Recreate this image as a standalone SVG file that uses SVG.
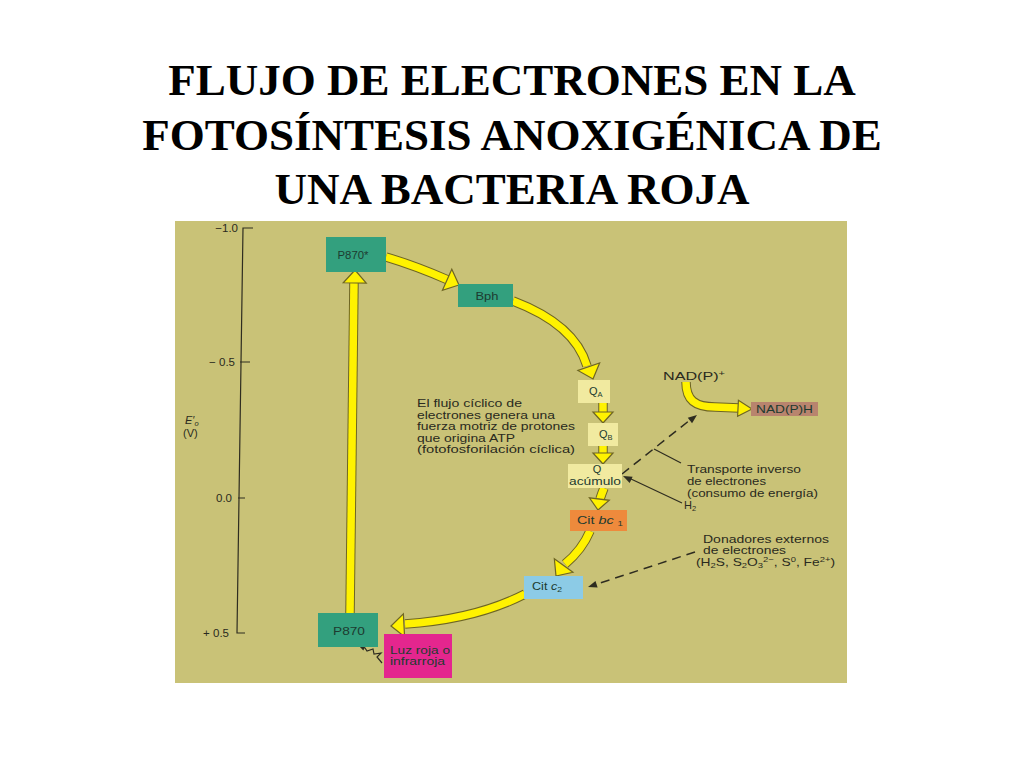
<svg xmlns="http://www.w3.org/2000/svg" xmlns:xlink="http://www.w3.org/1999/xlink" width="1024" height="768" viewBox="0 0 1024 768">
<style>
.title{font-family:"Liberation Serif","Times New Roman",serif;font-weight:bold;font-size:45px;fill:#000;text-anchor:middle}
.t{font-family:"Liberation Sans",Arial,sans-serif;font-size:11px;fill:#2a2a20}
.ax{font-family:"Liberation Sans",Arial,sans-serif;font-size:11.5px;fill:#2a2a20;text-anchor:end}
.bx{font-family:"Liberation Sans",Arial,sans-serif;font-size:11px;fill:#1d3b30}
.so{fill:none;stroke:#6e6524;stroke-width:9.5}
.si{fill:none;stroke:#fff200;stroke-width:7.5}
.hd{fill:#fff200;stroke:#6e6524;stroke-width:1.2;stroke-linejoin:miter}
.dash{fill:none;stroke:#2e2c20;stroke-width:1.5;stroke-dasharray:9 6}
.thin{fill:none;stroke:#2e2c20;stroke-width:1.2}
.dh{fill:#2e2c20}
.teal{fill:#33a07e}
.pale{fill:#f1eaa0}
</style>
<defs>
<path id="hd" d="M0,0 L-13,-11.5 L-13,11.5 Z"/>
<path id="hs" d="M0,0 L-11,-10 L-11,10 Z"/>
<path id="hn" d="M0,0 L-14,-8 L-14,8 Z"/>
<path id="da" d="M0,0 L-9,-3.5 L-9,3.5 Z"/>
<path id="s1" d="M386,257 Q416,266 448,280"/>
<path id="s2" d="M513,301 C550,315 578,335 587,366"/>
<path id="s3" d="M603,403 L603,413"/>
<path id="s4" d="M603,446 L603,454"/>
<path id="s5" d="M604,488 Q602,493 600,499"/>
<path id="s6" d="M590,531 Q582,550 565,564"/>
<path id="s7" d="M525,594 C490,612 450,621 405,624"/>
<path id="s8" d="M350,614 L354,281"/>
<path id="s9" d="M686,382 C686,400 695,407 715,407 L739,408"/>
</defs>

<rect x="0" y="0" width="1024" height="768" fill="#ffffff"/>
<g id="title">
<text class="title" x="512" y="95">FLUJO DE ELECTRONES EN LA</text>
<text class="title" x="512" y="150">FOTOSÍNTESIS ANOXIGÉNICA DE</text>
<text class="title" x="512" y="204">UNA BACTERIA ROJA</text>
</g>

<rect x="175" y="221" width="672" height="462" fill="#c9c277"/>

<g id="axis">
<path class="thin" d="M253,228 L243,228 L237,633 L245,633" stroke-width="1.6"/>
<path class="thin" d="M240,362 L250,362 M238,498 L245,498" stroke-width="1.6"/>
<text class="ax" x="238" y="232">−1.0</text>
<text class="ax" x="235" y="366">− 0.5</text>
<text class="ax" x="232" y="502">0.0</text>
<text class="ax" x="229" y="637">+ 0.5</text>
<text class="t" x="185" y="424" font-style="italic">E′<tspan font-size="7.5" dy="2">o</tspan></text>
<text class="t" x="183" y="437">(V)</text>
</g>

<g id="connectors">
<use href="#s1" class="so"/><use href="#s1" class="si"/>
<use href="#hd" class="hd" transform="translate(459,285) rotate(24)"/>
<use href="#s2" class="so"/><use href="#s2" class="si"/>
<use href="#hd" class="hd" transform="translate(593,379) rotate(71)"/>
<use href="#s3" class="so"/><use href="#s3" class="si"/>
<use href="#hs" class="hd" transform="translate(603,423) rotate(90)"/>
<use href="#s4" class="so"/><use href="#s4" class="si"/>
<use href="#hs" class="hd" transform="translate(603,464) rotate(90)"/>
<use href="#s5" class="so"/><use href="#s5" class="si"/>
<use href="#hs" class="hd" transform="translate(598,510) rotate(97)"/>
<use href="#s6" class="so"/><use href="#s6" class="si"/>
<use href="#hd" class="hd" transform="translate(556,576) rotate(126)"/>
<use href="#s7" class="so"/><use href="#s7" class="si"/>
<use href="#hd" class="hd" transform="translate(391,626) rotate(177)"/>
<use href="#s8" class="so"/><use href="#s8" class="si"/>
<use href="#hd" class="hd" transform="translate(355,270) rotate(-89)"/>
<use href="#s9" class="so"/><use href="#s9" class="si"/>
<use href="#hn" class="hd" transform="translate(752,409) rotate(3)"/>
<path class="dash" d="M622,474 L690,420"/>
<use href="#da" class="dh" transform="translate(697,415) rotate(-38)"/>
<path class="dash" d="M695,552 L597,584"/>
<use href="#da" class="dh" transform="translate(588,587) rotate(162)"/>
<path class="thin" d="M654,449 L681,463"/>
<path class="thin" d="M682,503 L631,479"/>
<use href="#da" class="dh" transform="translate(623,476) rotate(205)"/>
<path class="thin" stroke-width="1.3" d="M382,663 L377,657 L381,653 L374,654 L373,649 L367,651 L365,648 L362,647"/>
<use href="#da" class="dh" transform="translate(358,645) rotate(205) scale(0.8)"/>
</g>

<g id="p870star">
<rect class="teal" x="326" y="237" width="60" height="35"/>
<text class="bx" x="353" y="259" text-anchor="middle" textLength="31" lengthAdjust="spacingAndGlyphs">P870*</text>
</g>
<g id="bph">
<rect class="teal" x="458" y="284" width="55" height="23"/>
<text class="bx" x="487" y="300" text-anchor="middle" textLength="23" lengthAdjust="spacingAndGlyphs">Bph</text>
</g>
<g id="qa">
<rect class="pale" x="578" y="380" width="32" height="23"/>
<text class="bx" x="589" y="395" fill="#3a3a2a">Q<tspan font-size="7.5" dy="2">A</tspan></text>
</g>
<g id="qb">
<rect class="pale" x="588" y="423" width="30" height="23"/>
<text class="bx" x="599" y="438" fill="#3a3a2a">Q<tspan font-size="7.5" dy="2">B</tspan></text>
</g>
<g id="qpool">
<rect class="pale" x="568" y="464" width="54" height="24"/>
<text class="bx" x="597" y="473" text-anchor="middle" fill="#3a3a2a">Q</text>
<text class="bx" x="595" y="485" text-anchor="middle" fill="#3a3a2a" textLength="52" lengthAdjust="spacingAndGlyphs">acúmulo</text>
</g>
<g id="citbc1">
<rect x="570" y="510" width="57" height="21" fill="#ee8a3c"/>
<text class="bx" x="577" y="524" fill="#3a2010" textLength="46" lengthAdjust="spacingAndGlyphs">Cit <tspan font-style="italic">bc</tspan> <tspan font-size="7.5" dy="2">1</tspan></text>
</g>
<g id="citc2">
<rect x="524" y="576" width="59" height="23" fill="#8ccbe6"/>
<text class="bx" x="532" y="590" fill="#1e3040" textLength="30" lengthAdjust="spacingAndGlyphs">Cit <tspan font-style="italic">c</tspan><tspan font-size="7.5" dy="2">2</tspan></text>
</g>
<g id="p870">
<rect class="teal" x="318" y="613" width="60" height="34"/>
<text class="bx" x="349" y="635" text-anchor="middle" textLength="32" lengthAdjust="spacingAndGlyphs">P870</text>
</g>
<g id="light">
<rect x="384" y="634" width="68" height="44" fill="#e4268e"/>
<text class="bx" x="390" y="654" fill="#4a1035" textLength="60" lengthAdjust="spacingAndGlyphs">Luz roja o</text>
<text class="bx" x="390" y="665" fill="#4a1035" textLength="55" lengthAdjust="spacingAndGlyphs">infrarroja</text>
</g>
<g id="nadph">
<rect x="751" y="402" width="67" height="14" fill="#b8846e"/>
<text class="bx" x="756" y="413" fill="#3a2420" textLength="57" lengthAdjust="spacingAndGlyphs">NAD(P)H</text>
</g>
<g id="nadp">
<text class="t" x="663" y="380" textLength="62" lengthAdjust="spacingAndGlyphs">NAD(P)<tspan font-size="7.5" dy="-4">+</tspan></text>
</g>

<g id="labels">
<text class="t" x="417" y="407" textLength="105" lengthAdjust="spacingAndGlyphs">El flujo cíclico de</text>
<text class="t" x="417" y="418.5" textLength="138" lengthAdjust="spacingAndGlyphs">electrones genera una</text>
<text class="t" x="417" y="430" textLength="158" lengthAdjust="spacingAndGlyphs">fuerza motriz de protones</text>
<text class="t" x="417" y="441.5" textLength="98" lengthAdjust="spacingAndGlyphs">que origina ATP</text>
<text class="t" x="417" y="453" textLength="158" lengthAdjust="spacingAndGlyphs">(fotofosforilación cíclica)</text>
<text class="t" x="687" y="473" textLength="114" lengthAdjust="spacingAndGlyphs">Transporte inverso</text>
<text class="t" x="687" y="485" textLength="79" lengthAdjust="spacingAndGlyphs">de electrones</text>
<text class="t" x="687" y="497" textLength="131" lengthAdjust="spacingAndGlyphs">(consumo de energía)</text>
<text class="t" x="684" y="509">H<tspan font-size="7.5" dy="2">2</tspan></text>
<text class="t" x="703" y="543" textLength="126" lengthAdjust="spacingAndGlyphs">Donadores externos</text>
<text class="t" x="703" y="554" textLength="83" lengthAdjust="spacingAndGlyphs">de electrones</text>
<text class="t" x="696" y="566" textLength="139" lengthAdjust="spacingAndGlyphs">(H<tspan font-size="7.5" dy="2">2</tspan><tspan dy="-2">S, S</tspan><tspan font-size="7.5" dy="2">2</tspan><tspan dy="-2">O</tspan><tspan font-size="7.5" dy="2">3</tspan><tspan font-size="7.5" dy="-6">2−</tspan><tspan dy="4">, S</tspan><tspan font-size="7.5" dy="-4">0</tspan><tspan dy="4">, Fe</tspan><tspan font-size="7.5" dy="-4">2+</tspan><tspan dy="4">)</tspan></text>
</g>
</svg>
